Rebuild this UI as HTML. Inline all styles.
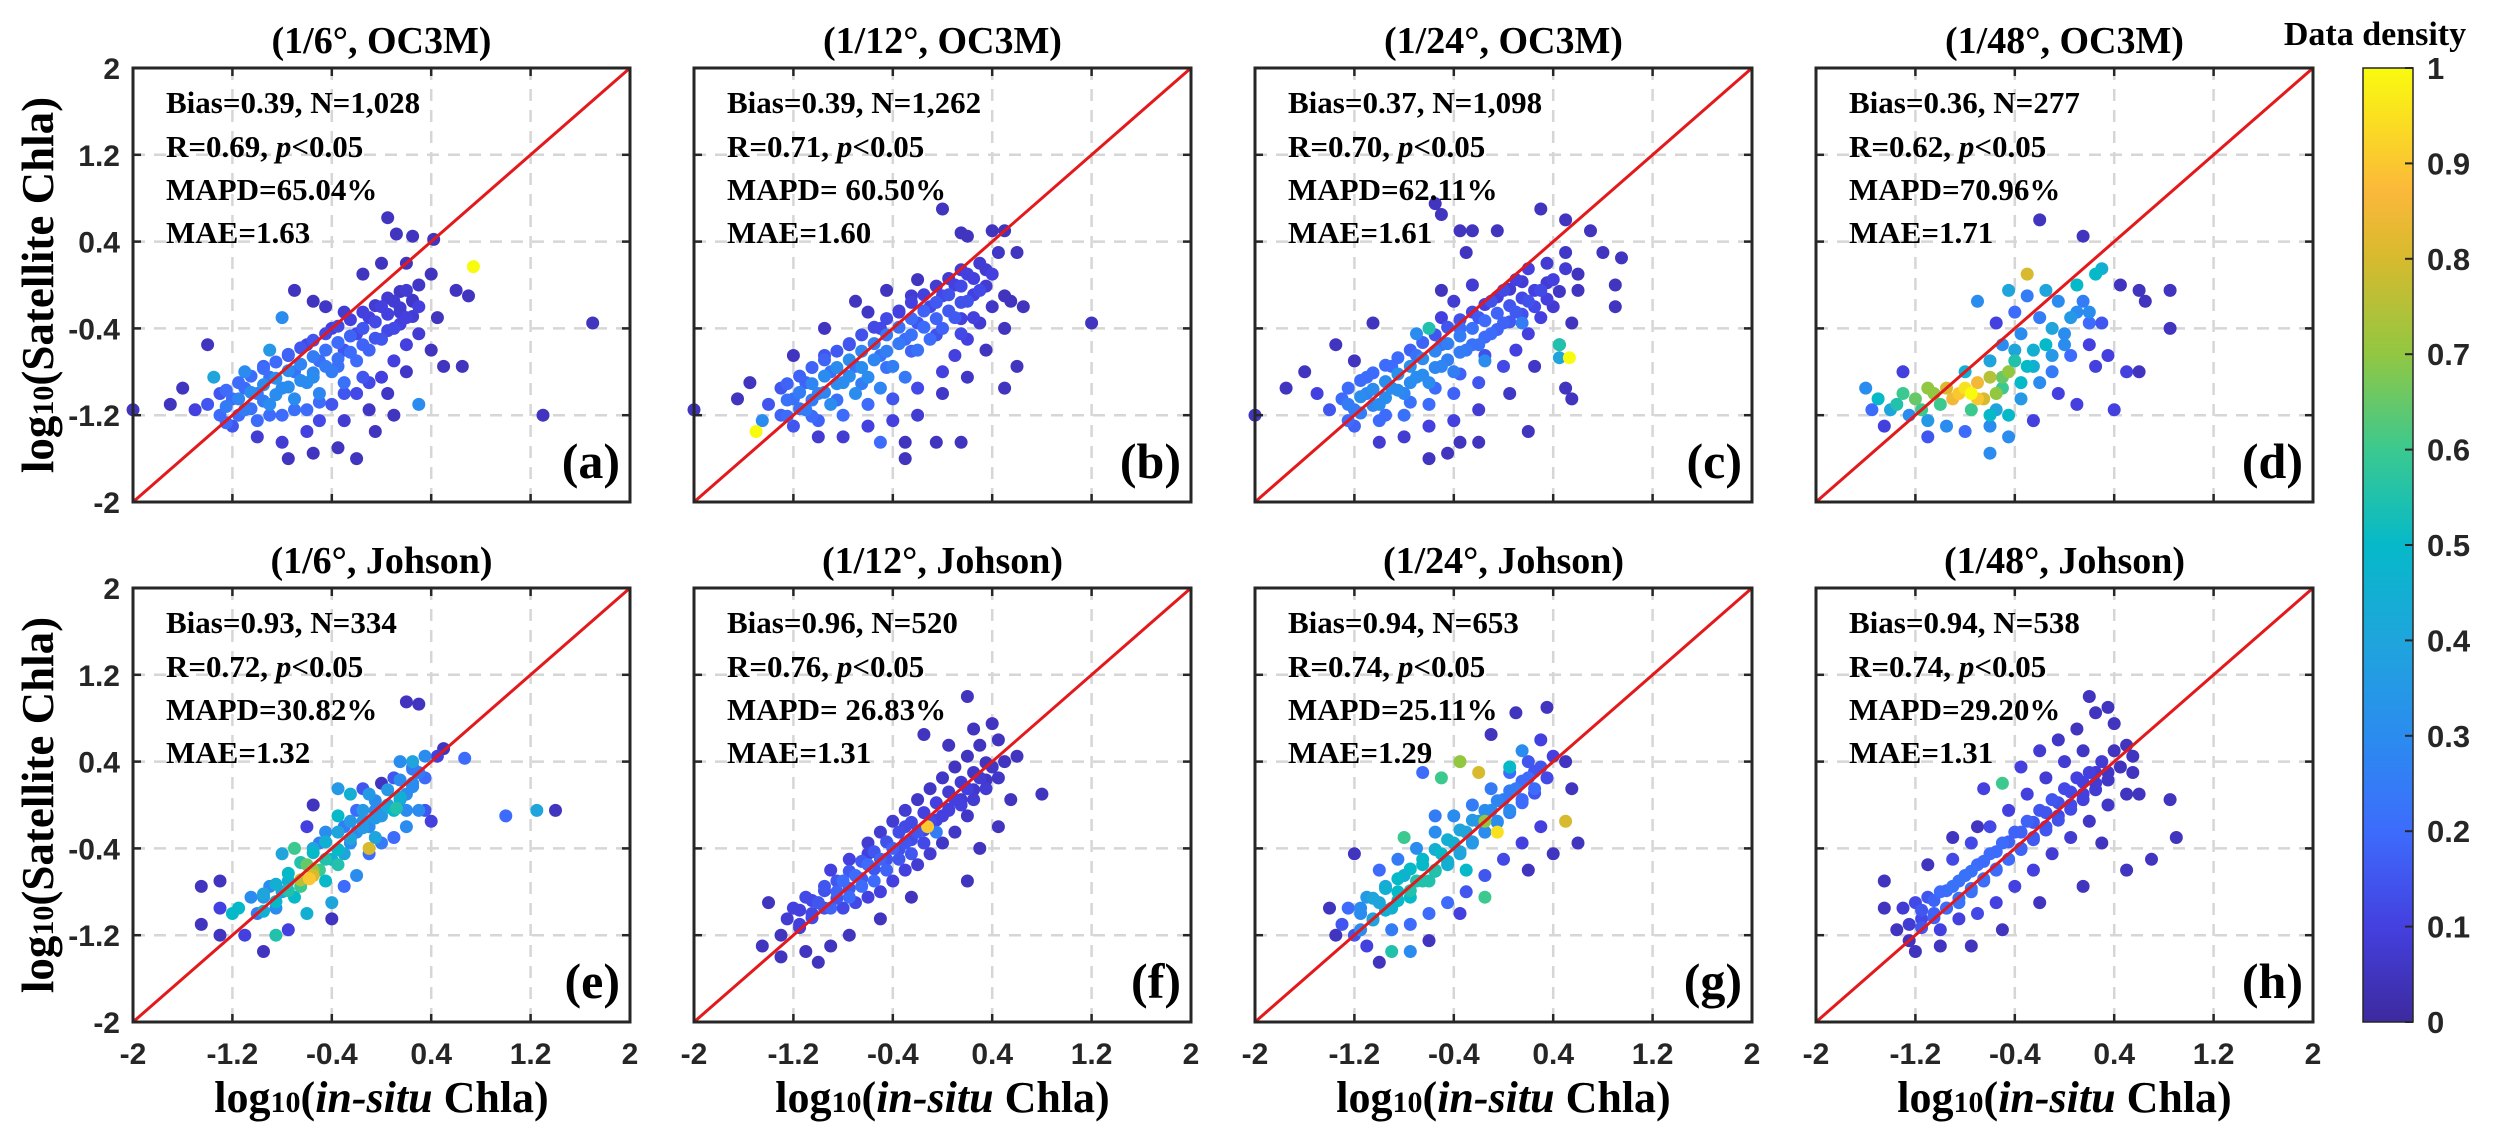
<!DOCTYPE html>
<html><head><meta charset="utf-8">
<style>
html,body{margin:0;padding:0;background:#fff;}
svg{display:block;}
</style></head>
<body>
<svg id="fig" width="2500" height="1146" viewBox="0 0 2500 1146" xmlns="http://www.w3.org/2000/svg">
<defs>
<linearGradient id="parula" x1="0" y1="1" x2="0" y2="0">
<stop offset="0" stop-color="#3d2a9e"/><stop offset="0.1" stop-color="#4440e0"/><stop offset="0.2" stop-color="#3d6cfc"/><stop offset="0.3" stop-color="#2b8cef"/><stop offset="0.4" stop-color="#1fa5dc"/><stop offset="0.5" stop-color="#06b9c9"/><stop offset="0.6" stop-color="#3bc98f"/><stop offset="0.7" stop-color="#92c742"/><stop offset="0.8" stop-color="#d7ba2e"/><stop offset="0.87" stop-color="#fbb83a"/><stop offset="1" stop-color="#f9fb0e"/>
</linearGradient>
</defs>
<g id="panels"></g>
<g id="cbar"></g>
</svg>
<script>
// ---- data ----
const tickValues = [-2, -1.2, -0.4, 0.4, 1.2, 2];
const tickLabels = ["-2", "-1.2", "-0.4", "0.4", "1.2", "2"];
const cbarTicks = [0, 0.1, 0.2, 0.3, 0.4, 0.5, 0.6, 0.7, 0.8, 0.9, 1];
const cbarLabels = ["0", "0.1", "0.2", "0.3", "0.4", "0.5", "0.6", "0.7", "0.8", "0.9", "1"];
const panelTitles = ["(1/6°, OC3M)", "(1/12°, OC3M)", "(1/24°, OC3M)", "(1/48°, OC3M)", "(1/6°, Johson)", "(1/12°, Johson)", "(1/24°, Johson)", "(1/48°, Johson)"];
const panelLetters = ["(a)", "(b)", "(c)", "(d)", "(e)", "(f)", "(g)", "(h)"];
const statBias = ["Bias=0.39, N=1,028", "Bias=0.39, N=1,262", "Bias=0.37, N=1,098", "Bias=0.36, N=277", "Bias=0.93, N=334", "Bias=0.96, N=520", "Bias=0.94, N=653", "Bias=0.94, N=538"];
const statR = ["0.69", "0.71", "0.70", "0.62", "0.72", "0.76", "0.74", "0.74"];
const statMAPD = ["MAPD=65.04%", "MAPD= 60.50%", "MAPD=62.11%", "MAPD=70.96%", "MAPD=30.82%", "MAPD= 26.83%", "MAPD=25.11%", "MAPD=29.20%"];
const statMAE = ["MAE=1.63", "MAE=1.60", "MAE=1.61", "MAE=1.71", "MAE=1.32", "MAE=1.31", "MAE=1.29", "MAE=1.31"];

// points: [log10 in-situ, log10 satellite, density]
const ptsA = [[-1.5,-1.15,.1],[-1.4,-1.1,.15],[-1.3,-1.2,.2],[-1.2,-1.05,.2],[-1.1,-1.15,.25],[-1.0,-1.0,.25],[-0.9,-1.1,.3],[-0.8,-0.95,.3],[-0.7,-1.05,.3],[-0.6,-0.9,.3],[-0.5,-1.0,.28],[-0.4,-0.8,.25],[-0.3,-0.9,.22],[-0.2,-0.7,.2],[-0.1,-0.6,.18],[0.0,-0.5,.15],[0.1,-0.4,.12],[0.2,-0.3,.1],[0.3,-0.2,.1],[-1.2,-1.3,.15],[-1.0,-1.25,.2],[-0.8,-1.2,.2],[-0.6,-1.15,.2],[-0.4,-1.1,.15],[-0.2,-1.0,.12],[0.0,-0.85,.1],[0.1,-0.7,.1],[0.2,-0.55,.1],[0.3,-0.45,.08],[-1.1,-0.95,.2],[-0.9,-0.85,.22],[-0.7,-0.8,.22],[-0.5,-0.7,.2],[-0.3,-0.6,.15],[-0.2,-0.45,.12],[-0.1,-0.3,.1],[0.0,-0.2,.1],[0.1,-0.15,.08],[0.2,-0.05,.08],[0.3,0.0,.06],[-0.6,-0.55,.12],[-0.4,-0.4,.1],[-0.3,-0.25,.08],[-0.45,-0.2,.06],[-1.0,-1.4,.08],[-0.8,-1.45,.08],[-0.6,-1.35,.1],[-0.5,-1.25,.12],[-0.3,-1.25,.08],[-0.1,-1.15,.06],[0.05,-1.0,.06],[0.2,-0.8,.06],[0.4,-0.6,.05],[0.45,-0.3,.05],[-1.3,-1.0,.15],[-0.95,-0.75,.18],[-0.75,-0.65,.15],[-0.55,-0.85,.3],[-0.35,-0.75,.22],[-0.15,-0.85,.15],[0.15,-0.25,.08],[0.25,-0.15,.06],[-2.0,-1.15,.05],[-1.7,-1.1,.05],[-1.6,-0.95,.05],[-1.35,-0.85,.4],[-1.1,-0.8,.3],[-1.4,-0.55,.05],[-0.9,-0.6,.35],[-0.55,-0.15,.05],[-0.7,-0.05,.05],[-0.8,-0.3,.3],[-0.15,0.1,.05],[0.0,0.2,.05],[0.2,0.2,.05],[0.05,0.62,.05],[0.12,0.47,.05],[0.25,0.45,.05],[0.42,0.42,.05],[0.4,0.1,.05],[0.74,0.17,1],[0.6,-0.05,.05],[0.7,-0.1,.05],[0.5,-0.75,.05],[0.65,-0.75,.05],[-0.35,-1.5,.05],[-0.2,-1.6,.05],[-0.55,-1.55,.05],[0.3,-1.1,.3],[1.3,-1.2,.05],[1.7,-0.35,.05],[-0.05,-1.35,.05],[0.1,-1.2,.05],[-0.75,-1.6,.05]];
const coreA = [[-1.25,-1.27,.2],[-1.25,-1.12,.25],[-1.25,-0.97,.2],[-1.15,-1.2,.2],[-1.15,-1.05,.28],[-1.15,-0.9,.2],[-1.05,-1.14,.22],[-1.05,-0.99,.3],[-1.05,-0.84,.2],[-0.95,-1.07,.25],[-0.95,-0.92,.3],[-0.95,-0.77,.2],[-0.85,-1.01,.3],[-0.85,-0.86,.32],[-0.85,-0.71,.2],[-0.75,-0.94,.3],[-0.75,-0.79,.3],[-0.75,-0.64,.18],[-0.65,-0.88,.3],[-0.65,-0.73,.28],[-0.65,-0.58,.15],[-0.55,-0.81,.28],[-0.55,-0.66,.25],[-0.55,-0.51,.15],[-0.45,-0.75,.25],[-0.45,-0.6,.22],[-0.45,-0.45,.12],[-0.35,-0.68,.22],[-0.35,-0.53,.2],[-0.35,-0.38,.12],[-0.25,-0.62,.2],[-0.25,-0.47,.18],[-0.25,-0.32,.1],[-0.15,-0.55,.18],[-0.15,-0.4,.15],[-0.15,-0.25,.1],[-0.05,-0.49,.15],[-0.05,-0.34,.12],[-0.05,-0.19,.08],[0.05,-0.42,.12],[0.05,-0.27,.1],[0.05,-0.12,.08],[0.15,-0.36,.1],[0.15,-0.21,.08],[0.15,-0.06,.06],[0.25,-0.29,.08],[0.25,-0.14,.06],[-0.9,-1.2,.2],[-0.7,-1.15,.22],[-0.5,-1.08,.2],[-0.3,-1.0,.15],[-0.1,-0.9,.12]];
const ptsB = [[-1.4,-1.1,.15],[-1.3,-1.2,.18],[-1.2,-1.05,.22],[-1.1,-1.15,.25],[-1.0,-1.0,.28],[-0.9,-1.1,.3],[-0.8,-0.9,.3],[-0.7,-1.0,.3],[-0.6,-0.85,.3],[-0.5,-0.95,.28],[-0.4,-0.75,.26],[-0.3,-0.85,.24],[-0.2,-0.6,.22],[-0.1,-0.5,.2],[0.0,-0.4,.18],[0.1,-0.3,.16],[0.2,-0.15,.14],[0.3,-0.05,.12],[0.4,0.1,.1],[-1.2,-1.3,.15],[-1.0,-1.25,.18],[-0.8,-1.2,.2],[-0.6,-1.1,.2],[-0.4,-1.05,.15],[-0.2,-0.95,.12],[0.0,-0.8,.1],[0.1,-0.65,.1],[0.2,-0.5,.1],[0.3,-0.35,.08],[0.4,-0.2,.06],[-1.1,-0.9,.18],[-0.9,-0.8,.22],[-0.7,-0.75,.22],[-0.5,-0.65,.22],[-0.3,-0.5,.2],[-0.2,-0.35,.15],[-0.1,-0.2,.12],[0.0,-0.1,.12],[0.1,0.0,.1],[0.2,0.1,.1],[0.3,0.2,.08],[0.45,0.3,.06],[-0.5,-0.4,.12],[-0.35,-0.25,.1],[-0.25,-0.1,.08],[-0.6,-0.25,.06],[-1.0,-1.4,.08],[-0.8,-1.4,.08],[-0.6,-1.3,.1],[-0.4,-1.25,.1],[-0.2,-1.2,.08],[0.0,-1.0,.06],[0.2,-0.85,.06],[0.35,-0.6,.05],[0.5,-0.4,.05],[0.5,-0.1,.05],[-1.3,-0.95,.15],[-0.95,-0.65,.15],[-0.75,-0.55,.12],[0.15,-0.45,.12],[0.25,-0.3,.1],[-2.0,-1.15,.05],[-1.65,-1.05,.05],[-1.55,-0.9,.05],[-1.2,-0.65,.05],[-1.45,-1.25,.3],[-1.5,-1.35,1],[-0.95,-0.4,.05],[-0.7,-0.15,.05],[-0.45,-0.05,.05],[-0.2,0.05,.05],[0.0,0.7,.05],[0.15,0.48,.05],[0.2,0.45,.05],[0.4,0.5,.05],[0.5,0.5,.05],[0.6,0.3,.05],[0.55,-0.15,.05],[0.65,-0.2,.05],[0.6,-0.75,.05],[0.5,-0.95,.05],[-0.3,-1.45,.05],[-0.3,-1.6,.05],[-0.05,-1.45,.05],[0.15,-1.45,.05],[1.2,-0.35,.05],[-0.5,-1.45,.2]];
const coreB = [[-1.25,-1.21,.2],[-1.25,-1.06,.22],[-1.25,-0.91,.18],[-1.15,-1.14,.22],[-1.15,-0.99,.25],[-1.15,-0.84,.18],[-1.05,-1.06,.25],[-1.05,-0.91,.28],[-1.05,-0.76,.18],[-0.95,-0.99,.28],[-0.95,-0.84,.3],[-0.95,-0.69,.18],[-0.85,-0.91,.3],[-0.85,-0.76,.3],[-0.85,-0.61,.16],[-0.75,-0.84,.3],[-0.75,-0.69,.3],[-0.75,-0.54,.15],[-0.65,-0.76,.3],[-0.65,-0.61,.28],[-0.65,-0.46,.14],[-0.55,-0.69,.28],[-0.55,-0.54,.26],[-0.55,-0.39,.12],[-0.45,-0.61,.26],[-0.45,-0.46,.24],[-0.45,-0.31,.12],[-0.35,-0.54,.24],[-0.35,-0.39,.22],[-0.35,-0.24,.1],[-0.25,-0.46,.22],[-0.25,-0.31,.2],[-0.25,-0.16,.1],[-0.15,-0.39,.2],[-0.15,-0.24,.18],[-0.15,-0.09,.1],[-0.05,-0.31,.18],[-0.05,-0.16,.16],[-0.05,-0.01,.08],[0.05,-0.24,.16],[0.05,-0.09,.14],[0.05,0.06,.08],[0.15,-0.16,.14],[0.15,-0.01,.12],[0.15,0.14,.08],[0.25,-0.09,.1],[0.25,0.06,.1],[0.35,-0.01,.08],[0.35,0.14,.08],[-1.05,-1.21,.2],[-0.85,-1.06,.22],[-0.65,-0.91,.25],[-0.45,-0.76,.22],[-0.25,-0.61,.18],[-0.05,-0.46,.14],[0.15,-0.31,.1]];
const ptsC = [[-1.4,-1.15,.15],[-1.3,-1.05,.2],[-1.2,-1.15,.25],[-1.1,-1.0,.28],[-1.0,-1.1,.3],[-0.9,-0.95,.3],[-0.8,-1.0,.28],[-0.7,-0.85,.3],[-0.6,-0.9,.3],[-0.5,-0.75,.28],[-0.4,-0.8,.26],[-0.3,-0.6,.24],[-0.2,-0.55,.22],[-0.1,-0.45,.2],[0.0,-0.35,.18],[0.1,-0.25,.16],[0.2,-0.15,.14],[0.3,-0.05,.12],[0.4,0.05,.1],[0.5,0.15,.08],[-1.2,-1.3,.18],[-1.0,-1.25,.2],[-0.8,-1.2,.22],[-0.6,-1.1,.2],[-0.4,-1.0,.18],[-0.2,-0.9,.15],[0.0,-0.75,.12],[0.1,-0.6,.1],[0.2,-0.45,.1],[0.3,-0.3,.1],[0.4,-0.2,.08],[-1.1,-0.85,.2],[-0.9,-0.75,.2],[-0.7,-0.65,.22],[-0.5,-0.55,.22],[-0.35,-0.4,.2],[-0.2,-0.3,.16],[-0.1,-0.15,.14],[0.0,-0.05,.12],[0.1,0.05,.1],[0.2,0.15,.1],[0.35,0.2,.08],[0.5,0.3,.06],[-0.5,-0.3,.1],[-0.4,-0.15,.08],[-0.25,0.0,.08],[-1.0,-1.45,.08],[-0.8,-1.4,.08],[-0.6,-1.3,.1],[-0.4,-1.25,.1],[-0.2,-1.15,.08],[0.05,-1.0,.06],[0.25,-0.75,.06],[0.45,-0.55,.05],[0.55,-0.35,.05],[0.6,-0.05,.05],[-1.5,-1.0,.1],[-0.15,-0.7,.3],[0.15,-0.35,.25],[-2.0,-1.2,.05],[-1.75,-0.95,.05],[-1.6,-0.8,.05],[-1.2,-0.7,.05],[-1.35,-0.55,.05],[-1.05,-0.35,.05],[-0.7,-0.45,.3],[-0.6,-0.4,.55],[-0.5,-0.05,.05],[-0.3,0.3,.05],[-0.55,0.75,.05],[-0.5,0.65,.05],[-0.35,0.5,.05],[-0.25,0.5,.05],[-0.05,0.5,.05],[0.3,0.7,.05],[0.5,0.6,.05],[0.7,0.5,.05],[0.8,0.3,.05],[0.95,0.25,.05],[0.9,0.0,.05],[0.9,-0.2,.05],[0.6,0.1,.05],[0.45,-0.55,.55],[0.53,-0.67,1],[0.45,-0.67,.4],[0.5,-0.95,.05],[0.55,-1.05,.05],[0.2,-1.35,.05],[-0.2,-1.45,.05],[-0.45,-1.55,.05],[-0.6,-1.6,.05],[-0.35,-1.45,.05]];
const coreC = [[-1.25,-1.25,.2],[-1.25,-1.1,.25],[-1.25,-0.95,.2],[-1.15,-1.18,.25],[-1.15,-1.03,.3],[-1.15,-0.88,.2],[-1.05,-1.11,.28],[-1.05,-0.96,.3],[-1.05,-0.81,.2],[-0.95,-1.04,.3],[-0.95,-0.89,.3],[-0.95,-0.74,.2],[-0.85,-0.97,.3],[-0.85,-0.82,.32],[-0.85,-0.67,.2],[-0.75,-0.9,.3],[-0.75,-0.75,.32],[-0.75,-0.6,.18],[-0.65,-0.83,.3],[-0.65,-0.68,.3],[-0.65,-0.53,.18],[-0.55,-0.76,.28],[-0.55,-0.61,.28],[-0.55,-0.46,.15],[-0.45,-0.69,.26],[-0.45,-0.54,.26],[-0.45,-0.39,.15],[-0.35,-0.62,.25],[-0.35,-0.47,.25],[-0.35,-0.32,.14],[-0.25,-0.55,.22],[-0.25,-0.4,.22],[-0.25,-0.25,.12],[-0.15,-0.48,.2],[-0.15,-0.33,.2],[-0.15,-0.18,.1],[-0.05,-0.41,.18],[-0.05,-0.26,.18],[-0.05,-0.11,.1],[0.05,-0.34,.16],[0.05,-0.19,.15],[0.05,-0.04,.08],[0.15,-0.27,.14],[0.15,-0.12,.12],[0.15,0.03,.08],[0.25,-0.2,.12],[0.25,-0.05,.1],[0.35,-0.13,.1],[0.35,0.02,.08],[0.45,-0.06,.06],[-0.95,-1.2,.2],[-0.75,-1.08,.22],[-0.55,-0.95,.2],[-0.35,-0.82,.18],[-0.15,-0.65,.14]];
const ptsD = [[-1.5,-1.05,.5],[-1.4,-1.15,.4],[-1.3,-1.0,.6],[-1.25,-1.2,.3],[-1.2,-1.05,.65],[-1.1,-0.95,.7],[-1.0,-1.1,.6],[-0.95,-0.95,.8],[-0.85,-1.0,.9],[-0.75,-1.0,1],[-0.7,-0.9,.85],[-0.65,-1.05,.8],[-0.6,-0.85,.75],[-0.5,-0.95,.6],[-0.45,-0.8,.7],[-0.4,-0.7,.55],[-0.3,-0.75,.5],[-0.25,-0.6,.45],[-0.15,-0.55,.5],[-0.1,-0.4,.4],[0.0,-0.45,.3],[0.05,-0.3,.35],[0.1,-0.25,.3],[0.15,-0.15,.25],[0.2,-0.35,.2],[-0.55,-1.15,.4],[-0.45,-1.2,.5],[-0.35,-1.05,.35],[-0.2,-0.9,.3],[-0.1,-0.8,.25],[0.05,-0.65,.2],[-0.8,-0.8,.45],[-0.6,-0.7,.4],[-0.5,-0.55,.3],[-0.35,-0.45,.3],[-0.2,-0.3,.25],[-0.05,-0.15,.3],[0.1,0.0,.5],[0.25,0.1,.5],[0.3,0.15,.45],[-0.4,-0.25,.2],[-0.55,-0.35,.1],[-1.1,-1.25,.35],[-0.95,-1.3,.3],[-0.8,-1.35,.2],[-0.6,-1.3,.3],[-0.45,-1.4,.3],[-0.25,-1.25,.1],[0.1,-1.1,.1],[0.2,-0.55,.1],[0.25,-0.75,.1],[0.35,-0.65,.1],[0.5,-0.8,.1],[0.3,-0.35,.15],[-1.6,-0.95,.3],[-1.55,-1.15,.2],[-1.45,-1.3,.1],[-1.1,-1.4,.15],[-0.7,-0.15,.3],[-0.45,-0.05,.4],[-0.3,0.1,.8],[-0.2,0.6,.05],[0.15,0.45,.05],[-0.3,-0.1,.25],[-0.15,-0.05,.4],[0.45,0.0,.05],[0.6,-0.05,.05],[0.65,-0.15,.05],[0.85,-0.4,.05],[0.6,-0.8,.05],[0.85,-0.05,.05],[0.2,-0.25,.3],[-0.05,-1.0,.1],[0.4,-1.15,.1],[-0.6,-1.55,.3],[-1.3,-0.8,.1]];
const coreD = [[-1.35,-1.1,.55],[-1.15,-1.15,.6],[-1.05,-1.0,.7],[-0.9,-1.05,.85],[-0.8,-0.95,.95],[-0.7,-1.05,.9],[-0.55,-1.0,.7],[-0.5,-0.85,.65],[-0.35,-0.9,.5],[-0.25,-0.75,.45],[-0.1,-0.65,.35],[-0.6,-1.2,.5],[-0.75,-1.15,.6],[-0.4,-0.6,.4],[0.0,-0.55,.3]];
const ptsE = [[-1.3,-0.95,.1],[-1.3,-0.7,.05],[-1.2,-1.0,.5],[-1.15,-0.95,.5],[-1.05,-0.85,.3],[-1.0,-1.0,.25],[-0.95,-0.85,.35],[-0.9,-0.75,.3],[-0.85,-0.95,.3],[-0.8,-0.8,.4],[-0.75,-0.7,.45],[-0.7,-0.85,.5],[-0.65,-0.75,.6],[-0.6,-0.55,.65],[-0.58,-0.68,.9],[-0.55,-0.65,.8],[-0.5,-0.6,.6],[-0.45,-0.7,.5],[-0.4,-0.5,.45],[-0.35,-0.55,.55],[-0.3,-0.45,.4],[-0.25,-0.35,.3],[-0.2,-0.25,.3],[-0.15,-0.15,.35],[-0.1,-0.2,.3],[-0.05,-0.05,.3],[0.0,-0.1,.35],[0.05,0.0,.4],[0.1,-0.05,.5],[0.12,-0.03,.55],[0.15,0.05,.35],[0.2,0.1,.3],[0.25,0.2,.3],[0.3,0.3,.25],[0.25,0.35,.25],[0.35,0.25,.2],[0.2,-0.05,.3],[-0.5,-0.35,.25],[-0.55,-0.4,.4],[-0.7,-0.4,.6],[-0.8,-0.45,.4],[-0.45,-0.25,.3],[-0.3,-0.2,.25],[-0.2,-0.05,.2],[-0.35,-0.1,.5],[-0.25,0.1,.45],[-0.1,0.1,.35],[-0.4,-0.9,.4],[-0.3,-0.75,.2],[-0.2,-0.65,.3],[-0.1,-0.45,.2],[0.0,-0.35,.25],[0.1,-0.3,.2],[0.2,-0.2,.3],[-0.1,-0.4,.8],[-0.05,-0.3,.4],[0.3,-0.05,.3],[0.4,-0.15,.1],[0.35,-0.05,.15],[-0.55,0.0,.05],[-0.6,-0.2,.1],[-0.35,0.15,.35],[-0.15,0.15,.15],[0.0,0.2,.05],[0.1,0.25,.15],[0.15,0.4,.3],[0.25,0.4,.4],[0.35,0.45,.3],[0.45,0.45,.1],[0.5,0.52,.05],[0.2,0.95,.05],[0.3,0.93,.05],[0.67,0.43,.2],[1.0,-0.1,.2],[1.25,-0.05,.4],[1.4,-0.05,.05],[-1.45,-0.75,.05],[-1.45,-1.1,.05],[-1.3,-1.2,.05],[-1.1,-1.2,.1],[-0.95,-1.35,.05],[-0.75,-1.15,.1],[-0.85,-1.2,.55],[-0.4,-1.05,.05],[-0.6,-1.0,.45]];
const coreE = [[-0.95,-0.98,.45],[-0.95,-0.82,.4],[-0.85,-0.89,.5],[-0.85,-0.73,.45],[-0.75,-0.79,.55],[-0.75,-0.63,.5],[-0.65,-0.69,.75],[-0.65,-0.53,.55],[-0.55,-0.6,.7],[-0.55,-0.44,.5],[-0.45,-0.5,.55],[-0.45,-0.34,.45],[-0.35,-0.41,.5],[-0.35,-0.25,.4],[-0.25,-0.31,.4],[-0.25,-0.15,.35],[-0.15,-0.21,.35],[-0.15,-0.05,.35],[-0.05,-0.12,.35],[-0.05,0.04,.3],[0.05,-0.02,.4],[0.05,0.14,.35],[0.15,0.07,.45],[0.15,0.23,.3],[0.25,0.17,.3],[0.25,0.33,.25]];
const ptsF = [[-1.3,-1.2,.05],[-1.25,-1.05,.08],[-1.2,-0.95,.1],[-1.15,-1.1,.1],[-1.1,-0.85,.12],[-1.05,-1.0,.12],[-1.0,-0.9,.15],[-0.95,-0.75,.15],[-0.9,-0.95,.18],[-0.85,-0.8,.18],[-0.8,-0.7,.2],[-0.75,-0.85,.2],[-0.7,-0.65,.2],[-0.65,-0.75,.2],[-0.6,-0.55,.2],[-0.55,-0.7,.2],[-0.5,-0.5,.18],[-0.45,-0.6,.18],[-0.4,-0.4,.18],[-0.35,-0.5,.15],[-0.3,-0.35,.15],[-0.25,-0.45,.15],[-0.2,-0.25,.15],[-0.15,-0.35,.12],[-0.1,-0.15,.12],[-0.05,-0.25,.25],[0.0,-0.1,.1],[0.05,-0.05,.1],[0.1,0.05,.1],[0.15,0.0,.1],[0.2,0.15,.1],[0.25,0.05,.08],[0.3,0.25,.08],[0.35,0.15,.08],[0.4,0.35,.06],[0.45,0.25,.06],[0.5,0.4,.05],[-0.8,-0.95,.12],[-0.7,-0.9,.12],[-0.6,-0.85,.1],[-0.5,-0.8,.1],[-0.4,-0.7,.1],[-0.3,-0.6,.1],[-0.2,-0.55,.08],[-0.1,-0.45,.08],[0.0,-0.35,.06],[0.1,-0.25,.06],[0.2,-0.1,.06],[-0.9,-0.6,.1],[-0.75,-0.5,.1],[-0.6,-0.35,.08],[-0.5,-0.25,.08],[-0.4,-0.15,.08],[-0.3,-0.05,.08],[-0.2,0.05,.06],[-0.1,0.15,.06],[0.0,0.25,.06],[0.1,0.35,.05],[0.2,0.45,.05],[0.3,0.55,.05],[-0.3,-0.2,.12],[-0.12,-0.2,.9],[-0.6,-0.45,.1],[-1.4,-0.9,.05],[-1.45,-1.3,.05],[-1.3,-1.4,.05],[-1.1,-1.35,.05],[-0.9,-1.3,.05],[-0.75,-1.2,.05],[-0.5,-1.05,.05],[-0.25,-0.85,.05],[0.2,-0.7,.05],[0.3,-0.4,.05],[0.45,-0.2,.05],[0.55,0.05,.05],[0.8,0.1,.05],[-0.15,0.65,.05],[0.05,0.55,.05],[0.25,0.7,.05],[0.2,1.0,.05],[0.4,0.75,.05],[0.45,0.6,.05],[0.6,0.45,.05],[-1.0,-1.45,.05]];
const coreF = [[-1.15,-1.13,.1],[-1.15,-0.97,.1],[-1.05,-1.04,.12],[-1.05,-0.88,.12],[-0.95,-0.95,.14],[-0.95,-0.79,.14],[-0.85,-0.86,.15],[-0.85,-0.7,.15],[-0.75,-0.77,.16],[-0.75,-0.61,.16],[-0.65,-0.68,.16],[-0.65,-0.52,.16],[-0.55,-0.59,.15],[-0.55,-0.43,.15],[-0.45,-0.5,.15],[-0.45,-0.34,.14],[-0.35,-0.41,.14],[-0.35,-0.25,.13],[-0.25,-0.32,.13],[-0.25,-0.16,.12],[-0.15,-0.23,.12],[-0.15,-0.07,.1],[-0.05,-0.14,.1],[-0.05,0.02,.1],[0.05,-0.04,.1],[0.05,0.12,.08],[0.15,0.05,.08],[0.15,0.21,.08],[0.25,0.14,.07],[0.25,0.3,.06],[0.35,0.23,.06],[0.35,0.39,.05]];
const ptsG = [[-1.3,-1.1,.15],[-1.25,-0.95,.2],[-1.2,-1.2,.15],[-1.15,-1.0,.3],[-1.1,-0.85,.35],[-1.05,-1.05,.35],[-1.0,-0.9,.4],[-0.95,-0.75,.4],[-0.9,-0.95,.45],[-0.85,-0.8,.5],[-0.8,-0.65,.45],[-0.75,-0.85,.5],[-0.7,-0.7,.55],[-0.65,-0.55,.5],[-0.6,-0.7,.55],[-0.55,-0.6,.55],[-0.5,-0.45,.5],[-0.45,-0.55,.45],[-0.4,-0.35,.45],[-0.35,-0.45,.4],[-0.3,-0.25,.4],[-0.25,-0.35,.35],[-0.2,-0.15,.35],[-0.15,-0.25,.3],[-0.1,-0.05,.3],[-0.05,-0.15,.3],[0.0,0.05,.25],[0.05,-0.05,.3],[0.1,0.15,.25],[0.15,0.05,.2],[0.2,0.25,.2],[0.25,0.15,.2],[0.3,0.35,.15],[0.35,0.25,.12],[0.4,0.45,.1],[-0.9,-1.15,.25],[-0.75,-1.1,.2],[-0.6,-1.0,.2],[-0.45,-0.9,.2],[-0.3,-0.8,.15],[-0.15,-0.65,.15],[0.0,-0.5,.12],[0.15,-0.35,.1],[0.3,-0.2,.1],[-1.0,-0.6,.2],[-0.85,-0.5,.25],[-0.7,-0.4,.3],[-0.55,-0.25,.3],[-0.4,-0.1,.3],[-0.25,0.0,.25],[-0.1,0.15,.25],[0.05,0.3,.2],[0.2,0.4,.15],[-0.05,-0.25,.95],[-0.2,0.3,.8],[-0.35,0.4,.7],[-0.5,0.25,.6],[-0.65,0.3,.2],[-0.55,-0.1,.25],[0.05,0.35,.5],[0.15,0.5,.3],[0.3,0.6,.1],[0.35,0.9,.05],[0.1,0.85,.05],[-0.1,0.65,.05],[0.5,0.4,.05],[0.55,0.15,.05],[0.5,-0.15,.8],[0.4,-0.45,.05],[0.6,-0.35,.05],[0.2,-0.6,.05],[-0.35,-1.0,.1],[-0.6,-1.25,.05],[-0.9,-1.35,.55],[-1.1,-1.3,.1],[-1.4,-0.95,.05],[-1.35,-1.2,.05],[-1.0,-1.45,.05],[-0.75,-1.35,.3],[-0.15,-0.85,.6],[-1.2,-0.45,.05],[-0.8,-0.3,.6],[-0.3,-0.6,.5]];
const coreG = [[-1.15,-1.15,.3],[-1.15,-0.95,.3],[-1.05,-1.06,.4],[-1.05,-0.86,.4],[-0.95,-0.97,.45],[-0.95,-0.77,.45],[-0.85,-0.88,.5],[-0.85,-0.68,.5],[-0.75,-0.79,.55],[-0.75,-0.59,.5],[-0.65,-0.7,.55],[-0.65,-0.5,.5],[-0.55,-0.61,.5],[-0.55,-0.41,.45],[-0.45,-0.52,.45],[-0.45,-0.32,.45],[-0.35,-0.43,.4],[-0.35,-0.23,.4],[-0.25,-0.34,.35],[-0.25,-0.14,.35],[-0.15,-0.25,.3],[-0.15,-0.05,.3],[-0.05,-0.16,.3],[-0.05,0.04,.28],[0.05,-0.07,.25],[0.05,0.13,.25],[0.15,0.02,.2],[0.15,0.22,.2],[0.25,0.11,.15],[0.25,0.31,.15],[-0.15,-0.15,.7]];
const ptsH = [[-1.35,-1.15,.05],[-1.3,-0.95,.08],[-1.25,-1.1,.08],[-1.2,-0.9,.12],[-1.15,-1.05,.12],[-1.1,-0.85,.15],[-1.05,-1.0,.18],[-1.0,-0.8,.2],[-0.95,-0.95,.2],[-0.9,-0.75,.22],[-0.85,-0.9,.22],[-0.8,-0.65,.22],[-0.75,-0.8,.22],[-0.7,-0.55,.2],[-0.65,-0.7,.2],[-0.6,-0.45,.2],[-0.55,-0.6,.2],[-0.5,-0.35,.2],[-0.45,-0.5,.18],[-0.4,-0.25,.18],[-0.35,-0.4,.18],[-0.3,-0.15,.18],[-0.25,-0.3,.15],[-0.2,-0.05,.15],[-0.15,-0.2,.15],[-0.1,0.05,.15],[-0.05,-0.1,.12],[0.0,0.15,.12],[0.05,0.0,.12],[0.1,0.25,.1],[0.15,0.1,.1],[0.2,0.3,.1],[0.25,0.2,.08],[0.3,0.4,.08],[0.35,0.3,.06],[0.4,0.5,.05],[-1.0,-1.15,.1],[-0.85,-1.05,.1],[-0.7,-1.0,.12],[-0.55,-0.9,.1],[-0.4,-0.75,.1],[-0.25,-0.6,.1],[-0.1,-0.45,.08],[0.05,-0.3,.08],[0.2,-0.15,.06],[0.35,0.0,.06],[-0.9,-0.5,.12],[-0.75,-0.35,.12],[-0.6,-0.2,.12],[-0.45,-0.05,.1],[-0.3,0.1,.1],[-0.15,0.25,.08],[0.0,0.4,.08],[0.15,0.5,.06],[-0.65,0.15,.1],[-0.5,0.2,.6],[-0.35,0.35,.1],[-0.2,0.5,.08],[-0.05,0.6,.06],[0.1,0.7,.05],[0.25,0.85,.05],[0.35,0.9,.05],[0.2,1.0,.05],[0.4,0.75,.05],[0.5,0.55,.05],[0.55,0.3,.05],[0.5,0.1,.05],[0.6,0.1,.05],[0.85,0.05,.05],[0.9,-0.3,.05],[0.7,-0.5,.05],[0.5,-0.6,.05],[0.3,-0.35,.05],[0.15,-0.75,.05],[-0.2,-0.9,.05],[-0.5,-1.15,.05],[-0.75,-1.3,.05],[-1.0,-1.3,.05],[-1.2,-1.35,.05],[-1.25,-1.25,.05],[-1.45,-0.95,.05],[-1.45,-0.7,.05],[-1.1,-0.55,.05],[-0.9,-0.3,.05],[-0.7,-0.2,.05]];
const coreH = [[-1.15,-1.13,.15],[-1.15,-0.97,.15],[-1.05,-1.04,.18],[-1.05,-0.88,.18],[-0.95,-0.95,.2],[-0.95,-0.79,.2],[-0.85,-0.86,.22],[-0.85,-0.7,.22],[-0.75,-0.77,.22],[-0.75,-0.61,.22],[-0.65,-0.68,.22],[-0.65,-0.52,.2],[-0.55,-0.59,.2],[-0.55,-0.43,.2],[-0.45,-0.5,.2],[-0.45,-0.34,.18],[-0.35,-0.41,.18],[-0.35,-0.25,.18],[-0.25,-0.32,.16],[-0.25,-0.16,.16],[-0.15,-0.23,.15],[-0.15,-0.07,.15],[-0.05,-0.14,.14],[-0.05,0.02,.14],[0.05,-0.04,.12],[0.05,0.12,.12],[0.15,0.05,.1],[0.15,0.21,.1],[0.25,0.14,.08],[0.25,0.3,.08],[0.35,0.23,.06],[0.45,0.35,.05],[0.55,0.45,.05]];
const panelPoints = [ptsA.concat(coreA), ptsB.concat(coreB), ptsC.concat(coreC), ptsD.concat(coreD), ptsE.concat(coreE), ptsF.concat(coreF), ptsG.concat(coreG), ptsH.concat(coreH)];

// ---- layout ----
const NS = "http://www.w3.org/2000/svg";
const colLeft = [133, 694, 1255, 1816];
const rowTop = [68, 588];
const PW = 497, PH = 434;
const parulaStops = [[0,"#3d2a9e"],[0.1,"#4440e0"],[0.2,"#3d6cfc"],[0.3,"#2b8cef"],[0.4,"#1fa5dc"],[0.5,"#06b9c9"],[0.6,"#3bc98f"],[0.7,"#92c742"],[0.8,"#d7ba2e"],[0.87,"#fbb83a"],[1,"#f9fb0e"]];
function hex2rgb(h){return [parseInt(h.substr(1,2),16),parseInt(h.substr(3,2),16),parseInt(h.substr(5,2),16)];}
function parula(v){
  v=Math.max(0,Math.min(1,v));
  for(let i=1;i<parulaStops.length;i++){
    if(v<=parulaStops[i][0]){
      const [a,ca]=parulaStops[i-1],[b,cb]=parulaStops[i];
      const t=(v-a)/(b-a),p=hex2rgb(ca),q=hex2rgb(cb);
      return "rgb("+p.map((c,k)=>Math.round(c+(q[k]-c)*t)).join(",")+")";
    }
  }
  return parulaStops[parulaStops.length-1][1];
}
function mk(tag, attrs, parent){
  const e=document.createElementNS(NS,tag);
  for(const k in attrs) e.setAttribute(k,attrs[k]);
  parent.appendChild(e); return e;
}
const root=document.getElementById("panels");
const serif='"Liberation Serif", "Times New Roman", serif';
const sans='"Liberation Sans", Arial, sans-serif';

for(let p=0;p<8;p++){
  const r=Math.floor(p/4), c=p%4;
  const L=colLeft[c], T=rowTop[r];
  const sx=v=>L+(v+2)/4*PW;
  const sy=v=>T+PH-(v+2)/4*PH;
  const g=mk("g",{},root);
  
  
  for(let i=1;i<tickValues.length-1;i++){
    const gx=mk("line",{x1:sx(tickValues[i]),x2:sx(tickValues[i]),y1:T,y2:T+PH,stroke:"#d6d6d6","stroke-width":2.5,"stroke-dasharray":"12,9"},g);
    
    
    const gy=mk("line",{x1:L,x2:L+PW,y1:sy(tickValues[i]),y2:sy(tickValues[i]),stroke:"#d6d6d6","stroke-width":2.5,"stroke-dasharray":"12,9"},g);
    
    
  }
  const pg=mk("g",{},g);
  
  
  const pts=panelPoints[p].slice().sort((a,b)=>a[2]-b[2]);
  for(const pt of pts){
    const dot=mk("circle",{cx:sx(pt[0]).toFixed(1),cy:sy(pt[1]).toFixed(1),r:6.5,fill:parula(pt[2])},pg);
    
    
  }
  const ol=mk("line",{x1:sx(-2),y1:sy(-2),x2:sx(2),y2:sy(2),stroke:"#e3191c","stroke-width":3},g);
  
  
  for(let i=1;i<tickValues.length-1;i++){
    const x=sx(tickValues[i]), y=sy(tickValues[i]);
    mk("line",{x1:x,x2:x,y1:T+PH,y2:T+PH-8,stroke:"#262626","stroke-width":2.5},g);
    mk("line",{x1:x,x2:x,y1:T,y2:T+8,stroke:"#262626","stroke-width":2.5},g);
    mk("line",{x1:L,x2:L+8,y1:y,y2:y,stroke:"#262626","stroke-width":2.5},g);
    mk("line",{x1:L+PW,x2:L+PW-8,y1:y,y2:y,stroke:"#262626","stroke-width":2.5},g);
  }
  const bx=mk("rect",{x:L,y:T,width:PW,height:PH,fill:"none",stroke:"#262626","stroke-width":3},g);
  
  
  if(c===0){
    for(let i=0;i<tickValues.length;i++){
      const t=mk("text",{x:120,y:sy(tickValues[i])+11,"text-anchor":"end","font-family":sans,"font-weight":"bold","font-size":30,fill:"#262626"},g);
      t.textContent=tickLabels[i];
      
      
    }
    const yl=mk("text",{transform:"translate(53,"+(T+PH/2)+") rotate(-90)","text-anchor":"middle","font-family":serif,"font-weight":"bold","font-size":45,fill:"#000"},g);
    yl.innerHTML='log<tspan font-size="30">10</tspan>(Satellite Chla)';
    
    
  }
  if(r===1){
    for(let i=0;i<tickValues.length;i++){
      const t=mk("text",{x:sx(tickValues[i]),y:T+PH+42,"text-anchor":"middle","font-family":sans,"font-weight":"bold","font-size":30,fill:"#262626"},g);
      t.textContent=tickLabels[i];
      
      
    }
    const xl=mk("text",{x:L+PW/2,y:T+PH+90,"text-anchor":"middle","font-family":serif,"font-weight":"bold","font-size":44,fill:"#000"},g);
    xl.innerHTML='log<tspan font-size="30">10</tspan>(<tspan font-style="italic">in-situ</tspan> Chla)';
    
    
  }
  const tt=mk("text",{x:L+PW/2,y:T-15,"text-anchor":"middle","font-family":serif,"font-weight":"bold","font-size":38,fill:"#000"},g);
  tt.textContent=panelTitles[p];
  
  
  const st=mk("text",{"font-family":serif,"font-weight":"bold","font-size":31,fill:"#000"},g);
  
  
  st.innerHTML='<tspan x="'+(L+33)+'" y="'+(T+45)+'">'+statBias[p]+'</tspan>'+
    '<tspan x="'+(L+33)+'" y="'+(T+89)+'">R='+statR[p]+', <tspan font-style="italic">p</tspan>&lt;0.05</tspan>'+
    '<tspan x="'+(L+33)+'" y="'+(T+132)+'">'+statMAPD[p]+'</tspan>'+
    '<tspan x="'+(L+33)+'" y="'+(T+175)+'">'+statMAE[p]+'</tspan>';
  const lt=mk("text",{x:L+PW-10,y:T+PH-24,"text-anchor":"end","font-family":serif,"font-weight":"bold","font-size":50,fill:"#000"},g);
  lt.textContent=panelLetters[p];
  
  
}

// colorbar
const cb=document.getElementById("cbar");
const CBX=2363, CBW=50, CBT=68, CBB=1022;
const cy=v=>CBB-v*(CBB-CBT);
const cr=mk("rect",{x:CBX,y:CBT,width:CBW,height:CBB-CBT,fill:"url(#parula)",stroke:"#262626","stroke-width":1.5},cb);


for(let i=0;i<cbarTicks.length;i++){
  const y=cy(cbarTicks[i]);
  mk("line",{x1:CBX+CBW-8,x2:CBX+CBW,y1:y,y2:y,stroke:"#262626","stroke-width":2},cb);
  const t=mk("text",{x:2427,y:y+11,"font-family":sans,"font-weight":"bold","font-size":31,fill:"#262626"},cb);
  t.textContent=cbarLabels[i];
  
  
}
const ct=mk("text",{x:2375,y:45,"text-anchor":"middle","font-family":serif,"font-weight":"bold","font-size":34,fill:"#000"},cb);
ct.textContent="Data density";


</script>
</body></html>
